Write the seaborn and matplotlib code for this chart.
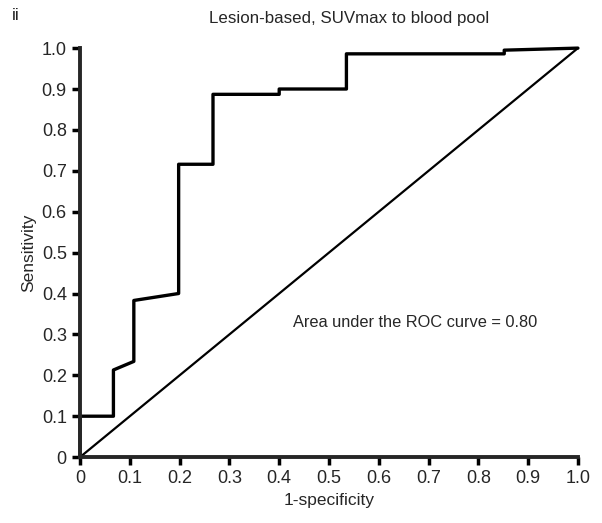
import matplotlib
matplotlib.use("Agg")
import matplotlib.pyplot as plt
import seaborn as sns
import pandas as pd

# ROC curve vertices
fpr = [0, 0, 0.067, 0.067, 0.108, 0.108, 0.198, 0.198, 0.267, 0.267,
       0.40, 0.40, 0.535, 0.535, 0.852, 0.852, 1.0]
tpr = [0, 0.10, 0.10, 0.213, 0.234, 0.383, 0.400, 0.716, 0.716, 0.887,
       0.887, 0.900, 0.900, 0.986, 0.986, 0.995, 1.0]
chance = [0, 1]
ticks = [0, 0.1, 0.2, 0.3, 0.4, 0.5, 0.6, 0.7, 0.8, 0.9, 1.0]
tick_labels = ["0", "0.1", "0.2", "0.3", "0.4", "0.5", "0.6", "0.7", "0.8", "0.9", "1.0"]
auc_text = "Area under the ROC curve = 0.80"

sns.set_style("ticks")
plt.rcParams["font.family"] = ["Liberation Sans", "DejaVu Sans"]

roc = pd.DataFrame({"fpr": fpr, "tpr": tpr})
diag = pd.DataFrame({"x": chance, "y": chance})

fig = plt.figure(figsize=(6.02, 5.23), dpi=100)
ax = fig.add_axes([0.133, 0.126, 0.827, 0.782])

sns.lineplot(data=diag, x="x", y="y", ax=ax, color="black", linewidth=1.6,
             sort=False, estimator=None, clip_on=False)
sns.lineplot(data=roc, x="fpr", y="tpr", ax=ax, color="black", linewidth=2.4,
             sort=False, estimator=None, clip_on=False)

ax.set_xlim(0, 1)
ax.set_ylim(0, 1)
ax.set_xticks(ticks)
ax.set_xticklabels(tick_labels)
ax.set_yticks(ticks)
ax.set_yticklabels(tick_labels)
ax.tick_params(axis="both", length=6, width=2.5, labelsize=13, color="black")
for s in ["left", "bottom"]:
    ax.spines[s].set_linewidth(2.8)
sns.despine(ax=ax)

ax.set_xlabel("1-specificity", fontsize=12.5, labelpad=4)
ax.set_ylabel("Sensitivity", fontsize=12.5, labelpad=4)

ax.text(0.428, 0.328, auc_text, fontsize=11.8, va="center", ha="left")
fig.text(0.58, 0.965, "Lesion-based, SUVmax to blood pool", fontsize=12.2,
         ha="center", va="center")
fig.text(0.02, 0.97, "ii", fontsize=12.5, ha="left", va="center")

fig.savefig("out.png", dpi=100)
